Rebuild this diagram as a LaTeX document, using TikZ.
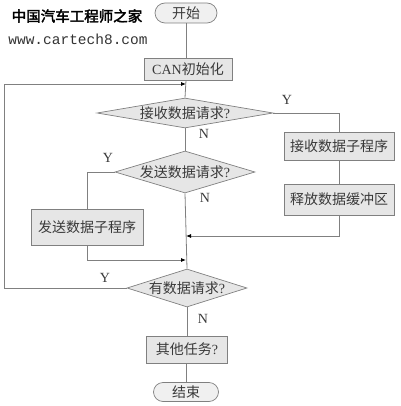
\documentclass[tikz,border=0pt]{standalone}
\usepackage{fontspec}
\setmainfont{Liberation Serif}
\newfontfamily\cjk{Noto Sans CJK SC}
\newfontfamily\cjkwm[FakeBold=2.5]{Noto Sans CJK SC}
\newfontfamily\wmono{Liberation Mono}
\usetikzlibrary{shapes.geometric,shapes.misc,arrows.meta}
\definecolor{ln}{HTML}{808080}
\definecolor{fl}{HTML}{E6E6E6}
\definecolor{tx}{HTML}{3A3A3A}
\tikzset{
  every node/.style={text=tx},
  lbl/.style={font=\fontsize{14}{14}\selectfont, text=tx},
  term/.style={rounded rectangle, draw=ln, fill=fl!60, line width=0.7pt, inner sep=0pt, font=\fontsize{14}{14}\selectfont\cjk},
  proc/.style={rectangle, draw=ln, fill=fl, line width=0.8pt, inner sep=0pt, font=\fontsize{14}{14}\selectfont\cjk},
  dec/.style={diamond, draw=ln, fill=fl, line width=0.7pt, inner sep=0pt, font=\fontsize{14}{14}\selectfont\cjk},
  conn/.style={draw=ln, line width=0.8pt},
  arr/.style={conn, -{Latex[length=5pt,width=4pt,color=black]}}
}
\begin{document}
\begin{tikzpicture}[x=1pt,y=-1pt]
\useasboundingbox (0,0) rectangle (400,406);
% watermark
\node[text=black, font=\fontsize{14.5}{14.5}\selectfont\cjkwm] (wm1) at (77,16) {中国汽车工程师之家};
\node[text=black!80, font=\fontsize{14.5}{14.5}\selectfont\wmono] (wm2) at (78,39) {www.cartech8.com};
% nodes
\node[term, minimum width=62pt, minimum height=20pt] (start) at (186,13) {开始};
\node[proc, minimum width=88pt, minimum height=22pt] (can) at (188,69) {{\rmfamily CAN}初始化};
\node[dec, aspect=5.87, minimum width=176pt, minimum height=30pt] (d1) at (185,113) {接收数据请求{\rmfamily ?}};
\node[proc, minimum width=110pt, minimum height=28pt] (recv) at (339,146) {接收数据子程序};
\node[proc, minimum width=110pt, minimum height=31pt] (rel) at (339,199.5) {释放数据缓冲区};
\node[dec, aspect=3.33, minimum width=140pt, minimum height=42pt] (d2) at (185,172) {发送数据请求{\rmfamily ?}};
\node[proc, minimum width=112pt, minimum height=36pt] (send) at (87,227) {发送数据子程序};
\node[dec, aspect=3.16, minimum width=120pt, minimum height=38pt] (d3) at (187,288) {有数据请求{\rmfamily ?}};
\node[proc, minimum width=81pt, minimum height=27pt] (other) at (187,349.5) {其他任务{\rmfamily ?}};
\node[term, minimum width=65pt, minimum height=19pt] (end) at (186,392) {结束};
% labels
\node[lbl] (y1) at (287,100) {Y};
\node[lbl] (n1) at (204,134) {N};
\node[lbl] (y2) at (108,158) {Y};
\node[lbl] (n2) at (205,198) {N};
\node[lbl] (y3) at (105,278) {Y};
\node[lbl] (n3) at (203,319) {N};
% coordinates
\coordinate (j0) at (186,84);
\coordinate (c0) at (4,84);
\coordinate (c1) at (4,288);
\coordinate (j2) at (186,236);
\coordinate (j3) at (186,260);
% connectors
\draw[conn] (start.south) -- (start.south |- can.north);
\draw[conn] (can.south -| start.south) -- (d1.north);
\draw[arr] (d3.west) -- (c1) -- (c0) -- (j0);
\draw[conn] (d1.east) -| (recv.north);
\draw[conn] (recv.south) -- (rel.north);
\draw[arr] (rel.south) |- (j2);
\draw[conn] (d1.south) -- (d2.north);
\draw[conn] (d2.west) -| (send.north);
\draw[arr] (send.south) |- (j3);
\draw[conn] (d2.south) -- (d3.north);
\draw[conn] (d3.south) -- (d3.south |- other.north);
\draw[conn] (other.south -| end.north) -- (end.north);
\end{tikzpicture}
\end{document}
